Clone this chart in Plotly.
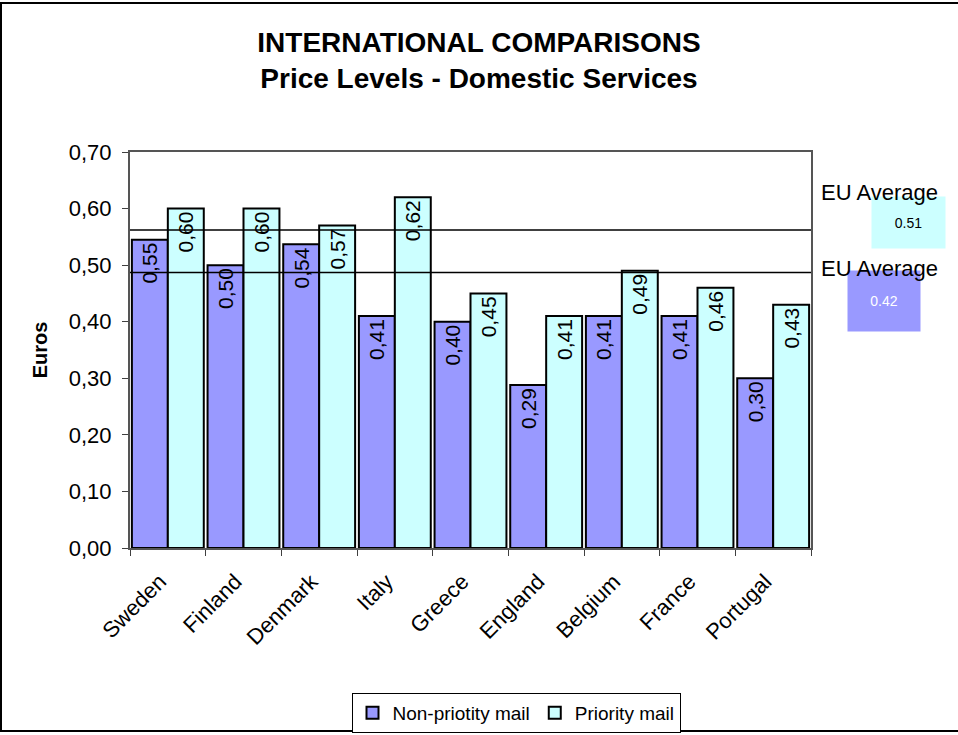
import plotly.graph_objects as go

countries = ["Sweden", "Finland", "Denmark", "Italy", "Greece", "England", "Belgium", "France", "Portugal"]
non_priority = [0.545, 0.50, 0.537, 0.41, 0.40, 0.288, 0.41, 0.41, 0.30]
priority = [0.60, 0.60, 0.57, 0.62, 0.45, 0.41, 0.49, 0.46, 0.43]
non_priority_labels = ["0,55", "0,50", "0,54", "0,41", "0,40", "0,29", "0,41", "0,41", "0,30"]
priority_labels = ["0,60", "0,60", "0,57", "0,62", "0,45", "0,41", "0,49", "0,46", "0,43"]
eu_avg_levels = [0.562, 0.487]
eu_avg_texts = ["0.51", "0.42"]
y_ticks = [0.0, 0.1, 0.2, 0.3, 0.4, 0.5, 0.6, 0.7]

C_NON = "#9999FF"
C_PRI = "#CCFFFF"
FONT = "Liberation Sans, Arial, sans-serif"

W, H = 958, 735
L, R, T, B = 130, 147, 152, 187
PW, PH = W - L - R, H - T - B


def px_x(px):
    return (px - L) / PW


def px_y(py):
    return (H - B - py) / PH


fig = go.Figure()
fig.add_trace(go.Bar(
    x=countries, y=non_priority, name="Non-priotity mail",
    marker=dict(color=C_NON, line=dict(color="black", width=2)),
    text=non_priority_labels, textposition="inside", textangle=-90,
    insidetextanchor="end", insidetextfont=dict(color="black", size=21, family=FONT),
    cliponaxis=False,
))
fig.add_trace(go.Bar(
    x=countries, y=priority, name="Priority mail",
    marker=dict(color=C_PRI, line=dict(color="black", width=2)),
    text=priority_labels, textposition="inside", textangle=-90,
    insidetextanchor="end", insidetextfont=dict(color="black", size=21, family=FONT),
    cliponaxis=False,
))

shapes = []
for lvl in eu_avg_levels:
    shapes.append(dict(type="line", xref="paper", yref="y", x0=0, x1=1, y0=lvl, y1=lvl,
                       line=dict(color="black", width=1.5), layer="above"))
# outer chart border (right edge lies outside the picture)
shapes.append(dict(type="rect", xref="paper", yref="paper",
                   x0=px_x(1), x1=px_x(965), y0=px_y(731), y1=px_y(3),
                   line=dict(color="black", width=2), layer="below"))

annotations = []
annotations.append(dict(xref="paper", yref="paper", x=px_x(908.5), y=px_y(222.5),
                        xanchor="center", yanchor="middle",
                        text=eu_avg_texts[0], showarrow=False, width=71, height=49,
                        bgcolor=C_PRI, font=dict(size=14, color="black", family=FONT)))
annotations.append(dict(xref="paper", yref="paper", x=px_x(884), y=px_y(301),
                        xanchor="center", yanchor="middle",
                        text=eu_avg_texts[1], showarrow=False, width=70, height=58,
                        bgcolor=C_NON, font=dict(size=14, color="white", family=FONT)))
for lvl_y in (193, 268):
    annotations.append(dict(xref="paper", yref="paper", x=px_x(819), y=px_y(lvl_y),
                            xanchor="left", yanchor="middle", text="EU Average",
                            showarrow=False, font=dict(size=22, color="black", family=FONT)))

fig.update_layout(
    width=W, height=H,
    margin=dict(l=L, r=R, t=T, b=B, autoexpand=False),
    paper_bgcolor="white", plot_bgcolor="white",
    separators=",.",
    font=dict(family=FONT, size=20, color="black"),
    title=dict(text="<b>INTERNATIONAL COMPARISONS<br>Price Levels - Domestic Services</b>",
               x=0.5, xanchor="center", xref="container", y=1 - 52 / H, yanchor="middle",
               font=dict(size=28, family=FONT, color="black")),
    barmode="group", bargap=0.05, bargroupgap=0,
    showlegend=True,
    legend=dict(orientation="h", x=px_x(516), xanchor="center", y=px_y(693), yanchor="top",
                bordercolor="black", borderwidth=1, bgcolor="white",
                font=dict(size=19, family=FONT), itemwidth=30, tracegroupgap=0),
    shapes=shapes, annotations=annotations,
)

fig.update_xaxes(
    type="category", tickangle=-45, ticks="outside", tickson="boundaries", ticklen=6,
    tickcolor="#404040", showline=True, linecolor="#555555", linewidth=2, mirror=True,
    showgrid=False, tickfont=dict(size=22, family=FONT), automargin=False,
    ticklabelstandoff=10, ticklabelshift=-8,
)
fig.update_yaxes(
    range=[0, 0.70], tickvals=y_ticks, tickformat=".2f", ticks="outside", ticklen=6,
    tickcolor="#404040", showline=True, linecolor="#555555", linewidth=2, mirror=True,
    showgrid=False, zeroline=False, tickfont=dict(size=22, family=FONT),
    title=dict(text="<b>Euros</b>", font=dict(size=20, family=FONT), standoff=16),
    ticklabelstandoff=6, automargin=False,
)

fig.write_html("out.html")
